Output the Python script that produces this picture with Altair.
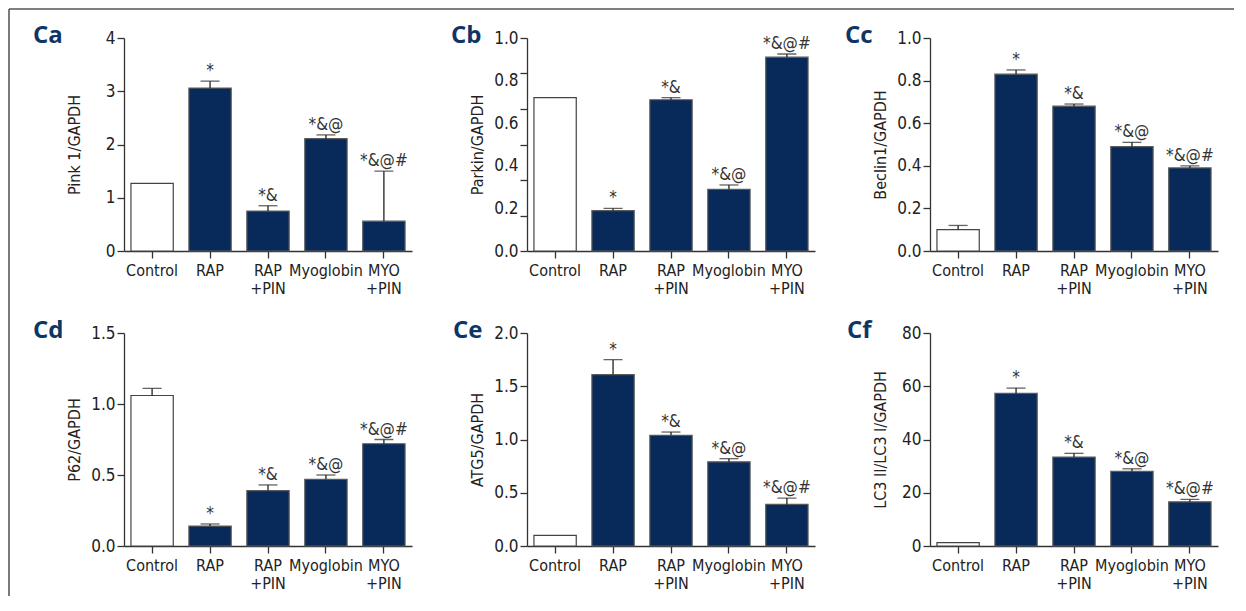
import altair as alt
import pandas as pd

# ---------------- data ----------------
groups = ["Control", "RAP", "RAP|+PIN", "Myoglobin", "MYO|+PIN"]
sig = ["", "*", "*&", "*&@", "*&@#"]

panel_ids = ["Ca", "Cb", "Cc", "Cd", "Ce", "Cf"]
y_titles = ["Pink 1/GAPDH", "Parkin/GAPDH", "Beclin1/GAPDH",
            "P62/GAPDH", "ATG5/GAPDH", "LC3 II/LC3 I/GAPDH"]
y_max = [4, 1.0, 1.0, 1.5, 2.0, 80]
y_ticks = [[0, 1, 2, 3, 4],
           [0, 0.2, 0.4, 0.6, 0.8, 1.0],
           [0, 0.2, 0.4, 0.6, 0.8, 1.0],
           [0, 0.5, 1.0, 1.5],
           [0, 0.5, 1.0, 1.5, 2.0],
           [0, 20, 40, 60, 80]]
y_formats = ["d", ".1f", ".1f", ".1f", ".1f", "d"]
# Cb: tick marks are drawn at sixths of the axis in the original figure
cb_tick_marks = [0, 1 / 6, 2 / 6, 3 / 6, 4 / 6, 5 / 6, 1.0]

ca_mean = [1.27, 3.06, 0.75, 2.11, 0.56]
ca_err = [None, 3.19, 0.85, 2.18, 1.50]
cb_mean = [0.72, 0.19, 0.71, 0.29, 0.91]
cb_err = [None, 0.20, 0.72, 0.31, 0.925]
cc_mean = [0.10, 0.83, 0.68, 0.49, 0.39]
cc_err = [0.12, 0.85, 0.69, 0.51, 0.40]
cd_mean = [1.06, 0.14, 0.39, 0.47, 0.72]
cd_err = [1.11, 0.155, 0.43, 0.50, 0.75]
ce_mean = [0.10, 1.61, 1.04, 0.79, 0.39]
ce_err = [None, 1.75, 1.07, 0.82, 0.45]
cf_mean = [1.3, 57.3, 33.4, 28.0, 16.6]
cf_err = [None, 59.3, 34.8, 29.0, 17.5]

means = [ca_mean, cb_mean, cc_mean, cd_mean, ce_mean, cf_mean]
errs = [ca_err, cb_err, cc_err, cd_err, ce_err, cf_err]

# ---------------- style ----------------
NAVY = "#082a5a"
LABEL_NAVY = "#0d3667"
FONT = "DejaVu Sans Condensed, Liberation Sans Narrow, sans-serif"
W, H = 288, 213
label_dx = [-91, -76, -85, -91, -74, -83]


def panel(i):
    is_cb = panel_ids[i] == "Cb"
    df = pd.DataFrame({
        "group": groups,
        "mean": means[i],
        "err": [e if e is not None else m for e, m in zip(errs[i], means[i])],
        "has_err": [e is not None for e in errs[i]],
        "sig": sig,
    })
    xenc = alt.X("group:N", sort=groups,
                 scale=alt.Scale(paddingInner=0.27, paddingOuter=0.12),
                 axis=alt.Axis(title=None, labelAngle=0, tickSize=7, labelPadding=4,
                               labelFontSize=16,
                               labelExpr="split(datum.label, '|')",
                               labelLineHeight=18))
    xplain = alt.X("group:N", sort=groups)
    yscale = alt.Scale(domain=[0, y_max[i]], nice=False, zero=True)

    def yq(field):
        return alt.Y(field, axis=None) if is_cb else alt.Y(field)

    if is_cb:
        yaxis = alt.Axis(values=cb_tick_marks, labels=False, tickSize=7,
                         title=y_titles[i], titleX=-50, titleY=H / 2, titleAngle=270,
                         titleAlign="center", titleBaseline="middle", orient="left")
    else:
        yaxis = alt.Axis(values=y_ticks[i], format=y_formats[i], tickSize=7, labelPadding=2,
                         title=y_titles[i], titleX=-50, titleY=H / 2, titleAngle=270,
                         titleAlign="center", titleBaseline="middle")
    base = alt.Chart(df)
    bars = base.mark_bar(strokeWidth=1.2).encode(
        x=xenc,
        y=alt.Y("mean:Q", scale=yscale, axis=yaxis),
        fill=alt.condition(alt.datum.group == "Control", alt.value("white"), alt.value(NAVY)),
        stroke=alt.condition(alt.datum.group == "Control", alt.value("#444444"), alt.value("#5a5a5a")),
    )
    eb = base.transform_filter(alt.datum.has_err)
    rule = eb.mark_rule(color="#222222", strokeWidth=1.3).encode(
        x=xplain, y=yq("mean:Q"), y2="err:Q")
    cap = eb.mark_tick(color="#222222", size=19, thickness=1.3).encode(
        x=xplain, y=yq("err:Q"))
    txt = base.mark_text(baseline="alphabetic", dy=-5, fontSize=17, font=FONT,
                         color="#333333").encode(
        x=xplain, y=yq("err:Q"), text="sig:N")
    lab = alt.Chart(pd.DataFrame({"p": [panel_ids[i]]})).mark_text(
        align="left", baseline="alphabetic", fontSize=24, fontWeight="bold",
        font="Open Sans", color=LABEL_NAVY).encode(
        x=alt.value(label_dx[i]), y=alt.value(5), text="p:N")
    layers = [bars, rule, cap, txt, lab]
    if is_cb:
        lab_axis = base.mark_point(opacity=0).encode(
            x=xplain,
            y=alt.Y("mean:Q", scale=yscale,
                    axis=alt.Axis(values=y_ticks[i], format=y_formats[i], ticks=False,
                                  domain=False, labelPadding=9, title=None, orient="left")))
        layers.append(lab_axis)
    if panel_ids[i] == "Ca":
        vline = alt.Chart(pd.DataFrame({"a": [0]})).mark_rule(color="#333333", strokeWidth=1.3).encode(
            x=alt.value(-115), y=alt.value(-29), y2=alt.value(558))
        hline = alt.Chart(pd.DataFrame({"a": [0]})).mark_rule(color="#555555", strokeWidth=1.3).encode(
            x=alt.value(-115), x2=alt.value(1110), y=alt.value(-29))
        layers += [vline, hline]
    ch = alt.layer(*layers).properties(width=W, height=H)
    if is_cb:
        ch = ch.resolve_axis(y="independent")
    return ch


panels = [panel(i) for i in range(6)]
chart = alt.concat(*panels, columns=3, spacing={"row": 82, "column": 115},
                   bounds="flush").properties(
    padding={"left": 0, "top": 0, "right": 0, "bottom": 0}
).configure_view(stroke=None).configure_axis(
    grid=False, domainColor="#333333", tickColor="#333333", domainWidth=1.3, tickWidth=1.3,
    labelColor="#222222", labelFont=FONT, labelFontSize=17, titleFont=FONT,
    titleFontSize=16, titleFontWeight="normal", titleColor="#222222"
)

chart.save("out.html", embed_options={"renderer": "svg", "actions": False})
